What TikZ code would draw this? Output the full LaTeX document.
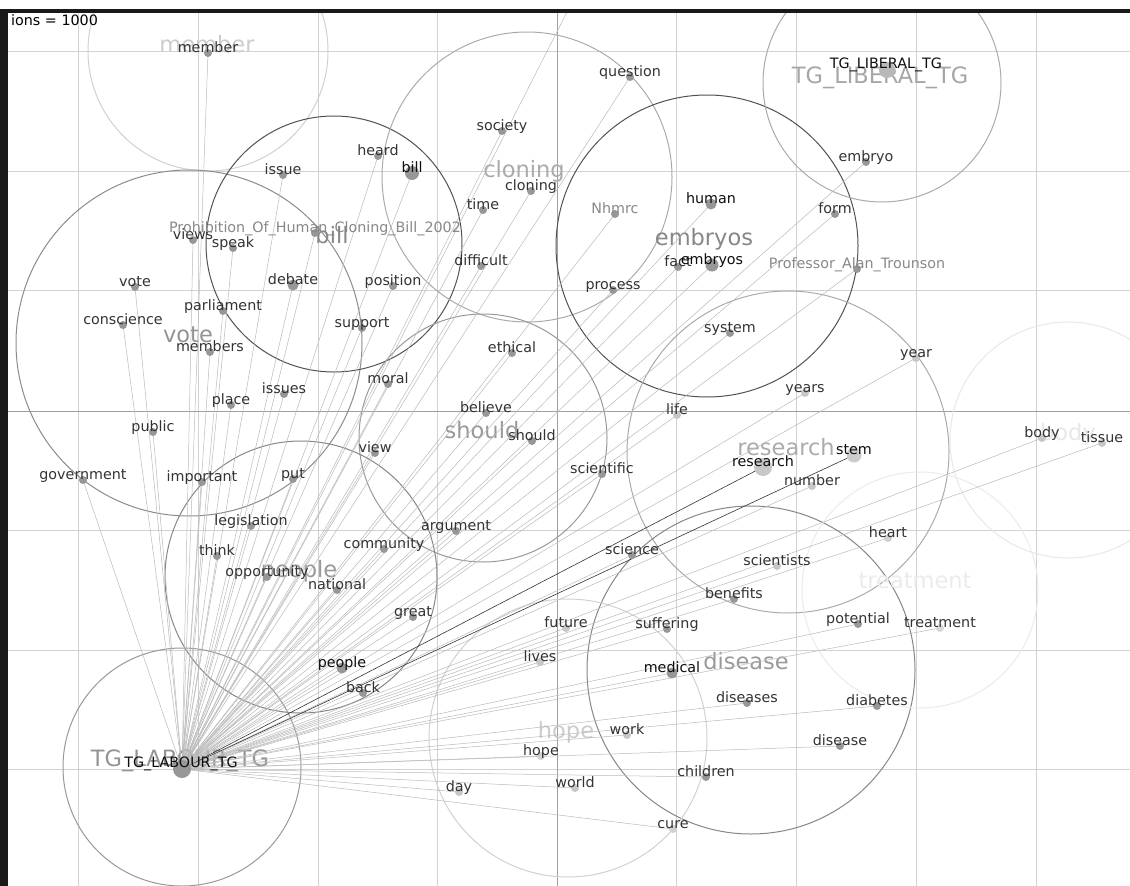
\documentclass[tikz,border=0pt]{standalone}
\usepackage{fontspec}
\setmainfont{DejaVu Sans}
\newcommand\us{\string_}
\definecolor{lab}{HTML}{333333}
\definecolor{labd}{HTML}{0E0E0E}
\definecolor{labg}{HTML}{888888}
\definecolor{dotc}{HTML}{979797}
\definecolor{edgec}{HTML}{BABABA}
\definecolor{gridc}{HTML}{D2D2D2}
\definecolor{gridd}{HTML}{A0A0A0}
\pgfdeclarelayer{bgl}
\pgfdeclarelayer{gridl}
\pgfdeclarelayer{circl}
\pgfdeclarelayer{bigl}
\pgfdeclarelayer{edgel}
\pgfdeclarelayer{frontl}
\pgfsetlayers{bgl,gridl,circl,bigl,edgel,main,frontl}
\tikzset{
  dot/.style={circle,fill=dotc,inner sep=0pt,minimum size=8pt},
  lbl/.style={anchor=base,inner sep=0pt,font=\fontsize{14.3}{16}\selectfont,text=lab},
  dark/.style={text=labd},
  grey/.style={text=labg},
  big/.style={anchor=base,inner sep=0pt,font=\fontsize{22.5}{24}\selectfont},
  clus/.style={circle,inner sep=0pt,line width=1pt},
  edge/.style={draw=edgec,line width=0.5pt},
  strong/.style={draw=black!80,line width=0.6pt},
  gridline/.style={draw=gridc,line width=0.8pt},
}
% name, x, y, text, dot style, label style, edge style
\newcommand\word[7]{%
  \node[dot,#5] (#1) at (#2,#3) {};
  \begin{pgfonlayer}{frontl}\node[lbl,#6] (#1-t) at (#2,#3-1) {#4};\end{pgfonlayer}
  \begin{pgfonlayer}{edgel}\begin{scope}\clip (8,12.5) rectangle (1130,886);
  \draw[edge,#7] (lab.center) -- (#1.center);\end{scope}\end{pgfonlayer}
}
\begin{document}
\begin{tikzpicture}[x=1pt,y=-1pt]
\useasboundingbox (0,0) rectangle (1130,886);
\begin{pgfonlayer}{bgl}
\fill[white] (0,0) rectangle (1130,886);
\end{pgfonlayer}
% grid
\begin{pgfonlayer}{gridl}
\foreach \gx in {78,198,318,437,676,796,916,1036} \draw[gridline] (\gx,12) -- (\gx,886);
\foreach \gy in {51,171,290,530,650,769} \draw[gridline] (8,\gy) -- (1130,\gy);
\draw[gridline,draw=gridd] (557,12) -- (557,886);
\draw[gridline,draw=gridd] (8,411) -- (1130,411);
\end{pgfonlayer}
% cluster circles
\begin{pgfonlayer}{circl}
\begin{scope}
\clip (8,12.5) rectangle (1130,886);
\node[clus,draw=black!18,minimum size=240pt] (c-member) at (208,51) {};
\node[clus,draw=black!45,minimum size=346pt] (c-vote) at (189,343) {};
\node[clus,draw=black!68,minimum size=256pt] (c-bill) at (334,244) {};
\node[clus,draw=black!33,minimum size=290pt] (c-cloning) at (527,177) {};
\node[clus,draw=black!68,minimum size=302pt] (c-embryos) at (707,246) {};
\node[clus,draw=black!33,minimum size=238pt] (c-liberal) at (882,83) {};
\node[clus,draw=black!40,minimum size=248pt] (c-should) at (483,438) {};
\node[clus,draw=black!33,minimum size=322pt] (c-research) at (788,452) {};
\node[clus,draw=black!47,minimum size=272pt] (c-people) at (301,577) {};
\node[clus,draw=black!47,minimum size=328pt] (c-disease) at (751,670) {};
\node[clus,draw=black!18,minimum size=278pt] (c-hope) at (568,738) {};
\node[clus,draw=black!40,minimum size=238pt] (c-labour) at (182,767) {};
\node[clus,draw=black!8,minimum size=236pt] (c-treatment) at (920,590) {};
\node[clus,draw=black!9,minimum size=236pt] (c-body) at (1068,440) {};
\end{scope}
\end{pgfonlayer}
% cluster labels
\begin{pgfonlayer}{bigl}
\node[big,text=black!20] (b-member) at (207,52) {member};
\node[big,text=black!47] (b-bill) at (332,243) {bill};
\node[big,text=black!33] (b-cloning) at (524,177) {cloning};
\node[big,text=black!47] (b-embryos) at (704,245) {embryos};
\node[big,text=black!35] (b-liberal) at (880,83) {TG\us LIBERAL\us TG};
\node[big,text=black!42] (b-vote) at (188,342) {vote};
\node[big,text=black!40] (b-should) at (482,438) {should};
\node[big,text=black!33] (b-research) at (786,455) {research};
\node[big,text=black!40] (b-people) at (299,577) {people};
\node[big,text=black!40] (b-disease) at (746,669) {disease};
\node[big,text=black!20] (b-hope) at (566,738) {hope};
\node[big,text=black!42] (b-labour) at (180,766) {TG\us LABOUR\us TG};
\node[big,text=black!8] (b-treatment) at (915,588) {treatment};
\node[big,text=black!9] (b-body) at (1068,440) {body};
\end{pgfonlayer}
% hub
\node[dot,minimum size=18pt] (lab) at (182,769) {};
\begin{pgfonlayer}{frontl}\node[lbl,dark] (lab-t) at (181,767) {TG\us LABOUR\us TG};\end{pgfonlayer}
\node[dot,minimum size=16pt,fill=black!28] (lib) at (887,70) {};
\begin{pgfonlayer}{frontl}\node[lbl,dark] (lib-t) at (886,68) {TG\us LIBERAL\us TG};\end{pgfonlayer}
\coordinate (offtop) at (567,12);
\begin{pgfonlayer}{edgel}\draw[edge] (lab.center) -- (offtop);\end{pgfonlayer}
% words
\word{member}{208}{53}{member}{}{}{}
\word{issue}{283}{175}{issue}{}{}{}
\word{heard}{378}{156}{heard}{}{}{}
\word{bill}{412}{173}{bill}{minimum size=14pt}{dark}{}
\word{views}{193}{240}{views}{}{}{}
\word{speak}{233}{248}{speak}{}{}{}
\word{prohib}{315}{233}{Prohibition\us Of\us Human\us Cloning\us Bill\us 2002}{}{grey}{}
\word{vote}{135}{287}{vote}{}{}{}
\word{debate}{293}{285}{debate}{minimum size=11pt}{}{}
\word{position}{393}{286}{position}{}{}{}
\word{question}{630}{77}{question}{}{}{}
\word{society}{502}{131}{society}{}{}{}
\word{cloning}{531}{191}{cloning}{}{}{}
\word{time}{483}{210}{time}{}{}{}
\word{difficult}{481}{266}{difficult}{}{}{}
\word{nhmrc}{615}{214}{Nhmrc}{}{grey}{}
\word{human}{711}{204}{human}{minimum size=11pt}{dark}{}
\word{fact}{678}{267}{fact}{}{}{}
\word{embryos}{712}{265}{embryos}{minimum size=13pt}{dark}{}
\word{process}{613}{290}{process}{}{}{}
\word{embryo}{866}{162}{embryo}{}{}{}
\word{form}{835}{214}{form}{}{}{}
\word{trounson}{857}{269}{Professor\us Alan\us Trounson}{}{grey}{}
\word{parliament}{223}{311}{parliament}{}{}{}
\word{conscience}{123}{325}{conscience}{}{}{}
\word{support}{362}{328}{support}{}{}{}
\word{members}{210}{352}{members}{}{}{}
\word{issues}{284}{394}{issues}{}{}{}
\word{place}{231}{405}{place}{}{}{}
\word{public}{153}{432}{public}{}{}{}
\word{government}{83}{480}{government}{}{}{}
\word{important}{202}{482}{important}{}{}{}
\word{put}{293}{479}{put}{}{}{}
\word{legislation}{251}{526}{legislation}{}{}{}
\word{think}{217}{556}{think}{}{}{}
\word{opportunity}{267}{577}{opportunity}{}{}{}
\word{national}{337}{590}{national}{}{}{}
\word{moral}{388}{384}{moral}{}{}{}
\word{view}{375}{453}{view}{}{}{}
\word{community}{384}{549}{community}{}{}{}
\word{ethical}{512}{353}{ethical}{}{}{}
\word{believe}{486}{413}{believe}{}{}{}
\word{should}{532}{441}{should}{}{}{}
\word{scientific}{602}{474}{scientific}{}{}{}
\word{argument}{456}{531}{argument}{}{}{}
\word{science}{632}{555}{science}{}{}{}
\word{life}{677}{415}{life}{fill=black!22}{}{}
\word{system}{730}{333}{system}{}{}{}
\word{research}{763}{467}{research}{minimum size=18pt,fill=black!22}{dark}{strong}
\word{year}{916}{358}{year}{fill=black!22}{}{}
\word{years}{805}{393}{years}{fill=black!22}{}{}
\word{stem}{854}{455}{stem}{minimum size=15pt,fill=black!20}{dark}{strong}
\word{number}{812}{486}{number}{fill=black!22}{}{}
\word{body}{1042}{438}{body}{fill=black!22}{}{}
\word{tissue}{1102}{443}{tissue}{fill=black!22}{}{}
\word{heart}{888}{538}{heart}{fill=black!18}{}{}
\word{scientists}{777}{566}{scientists}{fill=black!22}{}{}
\word{benefits}{734}{599}{benefits}{}{}{}
\word{people}{342}{668}{people}{minimum size=11pt}{dark}{}
\word{back}{363}{693}{back}{}{}{}
\word{great}{413}{617}{great}{}{}{}
\word{future}{566}{628}{future}{fill=black!22}{}{}
\word{suffering}{667}{629}{suffering}{}{}{}
\word{lives}{540}{662}{lives}{fill=black!22}{}{}
\word{medical}{672}{673}{medical}{minimum size=11pt}{dark}{}
\word{diseases}{747}{703}{diseases}{}{}{}
\word{work}{627}{735}{work}{fill=black!22}{}{}
\word{hope}{541}{756}{hope}{fill=black!18}{}{}
\word{day}{459}{792}{day}{fill=black!22}{}{}
\word{world}{575}{788}{world}{fill=black!22}{}{}
\word{children}{706}{777}{children}{}{}{}
\word{cure}{673}{829}{cure}{fill=black!18}{}{}
\word{potential}{858}{624}{potential}{}{}{}
\word{treatment}{940}{628}{treatment}{fill=black!15}{}{}
\word{diabetes}{877}{706}{diabetes}{}{}{}
\word{disease}{840}{746}{disease}{}{}{}
% frame
\begin{pgfonlayer}{frontl}
\fill[black!90] (0,9) rectangle (1130,12.5);
\fill[black!90] (0,9) rectangle (8,886);
\node[anchor=base west,inner sep=0pt,font=\fontsize{14.3}{16}\selectfont] (title) at (11,25) {ions = 1000};
\end{pgfonlayer}
\end{tikzpicture}
\end{document}
